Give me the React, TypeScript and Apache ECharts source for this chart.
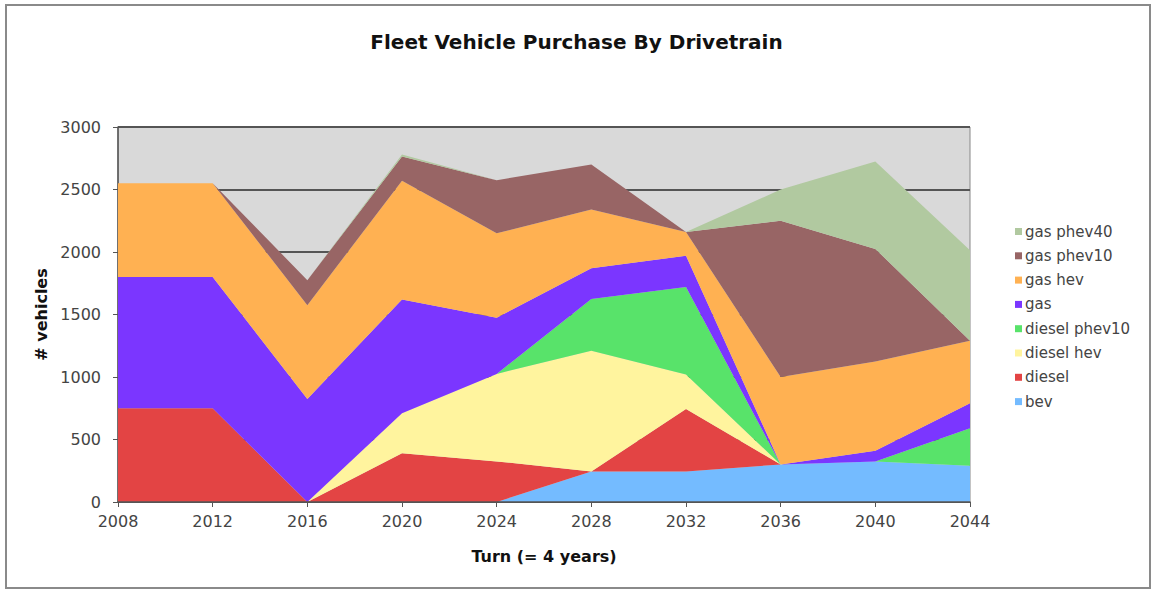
import React, { useEffect, useRef } from "react";
import * as echarts from "echarts";

const years = ["2008", "2012", "2016", "2020", "2024", "2028", "2032", "2036", "2040", "2044"];
const yTicks = [0, 500, 1000, 1500, 2000, 2500, 3000];

const seriesNames = ["bev", "diesel", "diesel hev", "diesel phev10", "gas", "gas hev", "gas phev10", "gas phev40"];
const bev = [0, 0, 0, 0, 0, 245, 245, 300, 325, 290];
const diesel = [750, 750, 0, 390, 325, 0, 500, 0, 0, 0];
const dieselHev = [0, 0, 0, 320, 700, 965, 275, 0, 0, 0];
const dieselPhev10 = [0, 0, 0, 0, 0, 415, 700, 0, 0, 300];
const gas = [1050, 1050, 825, 910, 450, 245, 250, 0, 85, 200];
const gasHev = [750, 750, 750, 950, 675, 470, 190, 700, 715, 500];
const gasPhev10 = [0, 0, 200, 195, 425, 360, 0, 1250, 900, 0];
const gasPhev40 = [0, 0, 0, 15, 0, 0, 0, 250, 700, 725];

const seriesValues = [bev, diesel, dieselHev, dieselPhev10, gas, gasHev, gasPhev10, gasPhev40];
const colors = ["#74BBFF", "#E34444", "#FFF49E", "#58E36A", "#7B36FF", "#FFB152", "#986565", "#B1C9A0"];

const FONT = "DejaVu Sans";

export default function App() {
  const ref = useRef<HTMLDivElement>(null);
  useEffect(() => {
    document.body.style.margin = "0";
    const chart = echarts.init(ref.current!, null, { renderer: "svg" });
    chart.setOption({
      animation: false,
      backgroundColor: "#ffffff",
      textStyle: { fontFamily: FONT },
      title: {
        text: "Fleet Vehicle Purchase By Drivetrain",
        left: "center",
        top: 27,
        textStyle: { fontFamily: FONT, fontSize: 20, fontWeight: "bold", color: "#111" },
      },
      grid: {
        left: 118,
        right: 183,
        top: 127,
        bottom: 88,
        show: true,
        backgroundColor: "#D9D9D9",
        borderColor: "#888",
        borderWidth: 1,
      },
      legend: {
        orient: "vertical",
        left: 1010,
        top: 219,
        icon: "rect",
        itemWidth: 7,
        itemHeight: 7,
        itemGap: 9.3,
        data: [...seriesNames].reverse(),
        textStyle: { fontFamily: FONT, fontSize: 15, color: "#444", padding: [0, 0, 0, -2] },
      },
      xAxis: {
        type: "category",
        data: years,
        boundaryGap: false,
        name: "Turn (= 4 years)",
        nameLocation: "middle",
        nameGap: 46,
        nameTextStyle: { fontFamily: FONT, fontSize: 16, fontWeight: "bold", color: "#111" },
        axisLine: { lineStyle: { color: "#555", width: 1.5 } },
        axisTick: { show: true, length: 5, lineStyle: { color: "#555" } },
        axisLabel: { fontFamily: FONT, fontSize: 16, color: "#444", margin: 11 },
        splitLine: { show: false },
        z: 10,
      },
      yAxis: {
        type: "value",
        min: yTicks[0],
        max: yTicks[yTicks.length - 1],
        interval: 500,
        name: "# vehicles",
        nameLocation: "middle",
        nameGap: 68,
        nameTextStyle: { fontFamily: FONT, fontSize: 16, fontWeight: "bold", color: "#111" },
        axisLine: { show: true, lineStyle: { color: "#555", width: 1.5 } },
        axisTick: { show: true, length: 5, lineStyle: { color: "#555" } },
        axisLabel: { fontFamily: FONT, fontSize: 16, color: "#444", margin: 17, formatter: (v: number) => String(v) },
        splitLine: { show: true, lineStyle: { color: "#555", width: 2 } },
      },
      series: seriesNames.map((name, i) => ({
        name,
        type: "line",
        stack: "total",
        data: seriesValues[i],
        symbol: "none",
        lineStyle: { width: 0 },
        areaStyle: { color: colors[i], opacity: 1 },
        itemStyle: { color: colors[i] },
      })),
      graphic: [
        {
          type: "rect",
          shape: { x: 6, y: 5, width: 1144, height: 583 },
          style: { fill: "none", stroke: "#8a8a8a", lineWidth: 2 },
          silent: true,
        },
      ],
    });
    return () => chart.dispose();
  }, []);
  return <div ref={ref} style={{ width: 1153, height: 590 }} />;
}
